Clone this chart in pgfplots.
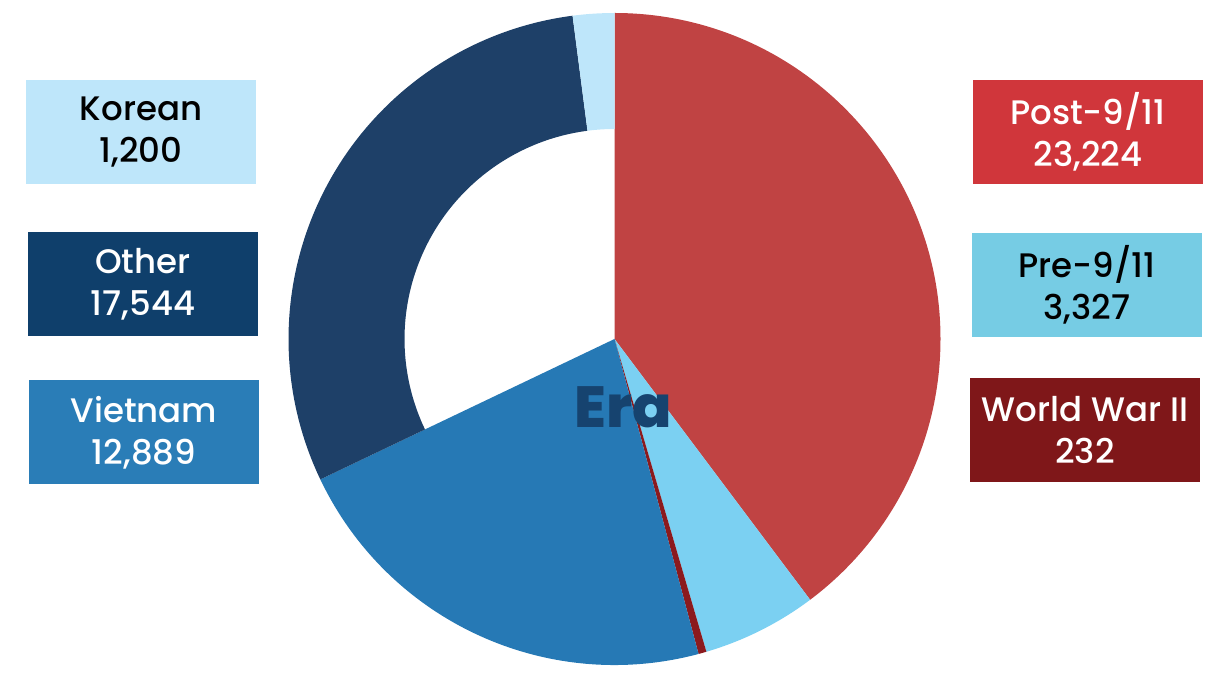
\documentclass[border=0pt]{standalone}
\usepackage{fontspec}
\setmainfont{Poppins Medium}
\usepackage{pgfplots}
\pgfplotsset{compat=1.18}
\definecolor{postc}{HTML}{C04343}
\definecolor{postb}{HTML}{D0363B}
\definecolor{prec}{HTML}{7BD0F2}
\definecolor{preb}{HTML}{76CCE4}
\definecolor{wwc}{HTML}{8B1A1E}
\definecolor{wwb}{HTML}{7F1719}
\definecolor{vietc}{HTML}{2679B5}
\definecolor{vietb}{HTML}{2A7DB7}
\definecolor{othc}{HTML}{1E4068}
\definecolor{othb}{HTML}{0F3F6B}
\definecolor{korc}{HTML}{BEE6FA}
\definecolor{erac}{HTML}{16436F}
\begin{document}
\begin{tikzpicture}
\def\cx{614.5}\def\cy{327}
\def\vPost{23224}\def\vPre{3327}\def\vWW{232}\def\vViet{12889}\def\vOth{17544}\def\vKor{1200}
\edef\tot{\fpeval{\vPost+\vPre+\vWW+\vViet+\vOth+\vKor}}
\edef\aA{90}
\edef\aB{\fpeval{round(\aA-360*\vPost/\tot,4)}}
\edef\aC{\fpeval{round(\aB-360*\vPre/\tot,4)}}
\edef\aD{\fpeval{round(\aC-360*\vWW/\tot,4)}}
\edef\aE{\fpeval{round(\aD-360*\vViet/\tot,4)}}
\edef\aF{\fpeval{round(\aE-360*\vOth/\tot,4)}}
\edef\aG{\fpeval{round(\aF-360*\vKor/\tot,4)}}
\begin{axis}[x=1pt,y=1pt,xmin=0,xmax=1205,ymin=0,ymax=666,hide axis,clip=false]
\path (axis cs:0,0) -- (axis cs:1205,666);
% full wedges
\fill[postc] (axis cs:\cx,\cy) -- ++(\aA:326pt) arc[start angle=\aA,end angle=\aB,radius=326pt] -- cycle;
\fill[prec] (axis cs:\cx,\cy) -- ++(\aB:326pt) arc[start angle=\aB,end angle=\aC,radius=326pt] -- cycle;
\fill[wwc] (axis cs:\cx,\cy) -- ++(\aC:326pt) arc[start angle=\aC,end angle=\aD,radius=326pt] -- cycle;
\fill[vietc] (axis cs:\cx,\cy) -- ++(\aD:326pt) arc[start angle=\aD,end angle=\aE,radius=326pt] -- cycle;
% ring segments
\fill[othc] (axis cs:\cx,\cy) ++(\aE:326pt) arc[start angle=\aE,end angle=\aF,radius=326pt] -- ++(\aF:-116pt) arc[start angle=\aF,end angle=\aE,radius=210pt] -- cycle;
\fill[korc] (axis cs:\cx,\cy) ++(\aF:326pt) arc[start angle=\aF,end angle=\aG,radius=326pt] -- ++(\aG:-116pt) arc[start angle=\aG,end angle=\aF,radius=210pt] -- cycle;
% center label
\node[text=erac,font=\fontsize{58}{64}\selectfont\bfseries] at (axis cs:623,259) {Era};
% boxes
\tikzset{lab/.style={minimum width=230pt,minimum height=104pt,inner sep=0pt,align=center,font=\fontsize{34}{42}\selectfont}}
\node[lab,fill=korc,text=black] at (axis cs:141,534) {\raisebox{-3pt}{Korean}\\\raisebox{-3pt}{1,200}};
\node[lab,fill=othb,text=white] at (axis cs:143,382) {\raisebox{-2pt}{Other}\\\raisebox{-2pt}{17,544}};
\node[lab,fill=vietb,text=white] at (axis cs:144,233.5) {Vietnam\\12,889};
\node[lab,fill=postb,text=white] at (axis cs:1088,534) {Post-9/11\\23,224};
\node[lab,fill=preb,text=black] at (axis cs:1087,381) {Pre-9/11\\3,327};
\node[lab,fill=wwb,text=white] at (axis cs:1085,236) {World War II\\232};
\end{axis}
\end{tikzpicture}
\end{document}
